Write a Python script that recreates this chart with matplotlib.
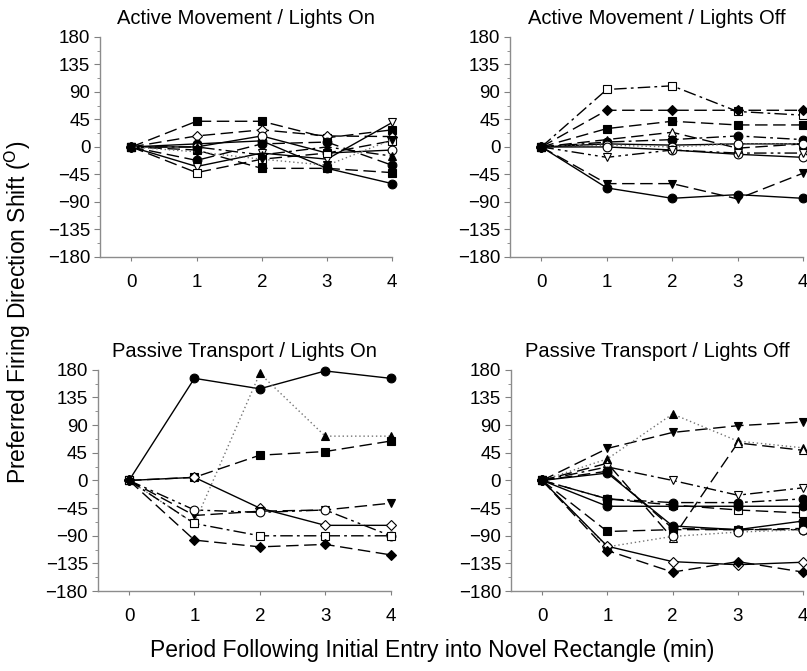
import numpy as np
import matplotlib
matplotlib.use("Agg")
import matplotlib.pyplot as plt
from matplotlib.ticker import MultipleLocator

plt.rcParams['font.family'] = ['Liberation Sans', 'DejaVu Sans']

periods = [0, 1, 2, 3, 4]
yticks = [180, 135, 90, 45, 0, -45, -90, -135, -180]

# Active Movement / Lights On
am_on_vals = [
    [0, 42, 42, 15, 28],
    [0, 18, 28, 18, 17],
    [0, 5, 10, -35, -60],
    [0, 0, 18, -10, -5],
    [0, -22, 5, 8, -30],
    [0, -32, -10, -20, 40],
    [0, -42, -20, -10, 10],
    [0, -5, -35, -35, -42],
    [0, 0, -13, 0, -15],
    [0, -8, -20, -30, 12],
]
am_on_mk = ['s', 'D', 'o', 'o', 'o', 'v', 's', 's', '^', 'v']
am_on_fill = [1, 0, 1, 0, 1, 0, 0, 1, 1, 1]
am_on_ls = ['dash', 'dash', 'solid', 'solid', 'dash', 'solid', 'dash', 'dash', 'dashdot', 'dot']

# Active Movement / Lights Off
am_off_vals = [
    [0, 94, 100, 58, 52],
    [0, 60, 60, 60, 60],
    [0, 30, 42, 36, 36],
    [0, 12, 24, -2, 5],
    [0, 8, 12, 18, 12],
    [0, 5, 3, 5, 5],
    [0, 3, 0, 5, 5],
    [0, 0, -5, -12, -17],
    [0, -17, -5, -10, -10],
    [0, -60, -60, -85, -43],
    [0, -67, -84, -78, -84],
]
am_off_mk = ['s', 'D', 's', '^', 'o', '^', 'o', 'o', 'v', 'v', 'o']
am_off_fill = [0, 1, 1, 0, 1, 1, 0, 0, 0, 1, 1]
am_off_ls = ['dashdot', 'dash', 'dash', 'dash', 'dashdot', 'solid', 'dot', 'solid',
             'dashdotdot', 'dash', 'solid']

# Passive Transport / Lights On
pt_on_vals = [
    [0, 166, 149, 178, 166],
    [0, -70, 174, 72, 72],
    [0, 5, 41, 47, 64],
    [0, 5, -45, -73, -73],
    [0, -57, -50, -48, -37],
    [0, -48, -52, -48, -90],
    [0, -70, -90, -90, -90],
    [0, -97, -108, -104, -121],
]
pt_on_mk = ['o', '^', 's', 'D', 'v', 'o', 's', 'D']
pt_on_fill = [1, 1, 1, 0, 1, 0, 0, 1]
pt_on_ls = ['solid', 'dot', 'dash', 'solid', 'dash', 'dashdotdot', 'dashdot', 'dash']

# Passive Transport / Lights Off
pt_off_vals = [
    [0, 52, 78, 89, 95],
    [0, 35, 108, 64, 53],
    [0, 28, -94, 61, 49],
    [0, 22, 0, -24, -12],
    [0, 12, -74, -80, -66],
    [0, 15, -78, -80, -80],
    [0, -30, -40, -48, -53],
    [0, -30, -36, -36, -30],
    [0, -42, -42, -42, -42],
    [0, -83, -80, -80, -78],
    [0, -108, -91, -84, -80],
    [0, -107, -132, -137, -133],
    [0, -114, -149, -132, -149],
]
pt_off_mk = ['v', '^', '^', 'v', 'o', 'o', 's', 'o', 'o', 's', 'o', 'D', 'D']
pt_off_fill = [1, 1, 0, 0, 1, 1, 0, 1, 1, 1, 0, 0, 1]
pt_off_ls = ['dash', 'dot', 'dash', 'dashdot', 'solid', 'dash', 'dash', 'dashdot',
             'solid', 'dash', 'dot', 'solid', 'dash']

styles = {
    'solid': '-',
    'dash': (0, (9, 4)),
    'dashdot': (0, (9, 3, 2, 3)),
    'dashdotdot': (0, (9, 3, 2, 3, 2, 3)),
    'dot': (0, (1, 2)),
}

fig = plt.figure(figsize=(8.07, 6.71), dpi=100)
boxes = [
    [0.124, 0.617, 0.362, 0.328],
    [0.632, 0.617, 0.363, 0.328],
    [0.121, 0.119, 0.363, 0.330],
    [0.633, 0.119, 0.362, 0.330],
]
panels = [
    ("Active Movement / Lights On", am_on_vals, am_on_mk, am_on_fill, am_on_ls),
    ("Active Movement / Lights Off", am_off_vals, am_off_mk, am_off_fill, am_off_ls),
    ("Passive Transport / Lights On", pt_on_vals, pt_on_mk, pt_on_fill, pt_on_ls),
    ("Passive Transport / Lights Off", pt_off_vals, pt_off_mk, pt_off_fill, pt_off_ls),
]

for box, (title, vals, mks, fills, lss) in zip(boxes, panels):
    ax = fig.add_axes(box)
    for v, m, f, ls in zip(vals, mks, fills, lss):
        col = '0.45' if ls == 'dot' else 'black'
        ax.plot(periods, v, color=col, linestyle=styles[ls], linewidth=1.0,
                marker=m, markersize=6.3 if m != 'D' else 5.2,
                markerfacecolor='black' if f else 'white',
                markeredgecolor='black', markeredgewidth=0.8, clip_on=False)
    ax.set_xlim(-0.48, 4.0)
    ax.set_ylim(-180, 180)
    ax.set_xticks(periods)
    ax.set_yticks(yticks)
    ax.yaxis.set_minor_locator(MultipleLocator(22.5))
    ax.tick_params(axis='both', labelsize=13.5, color='0.5', direction='out')
    ax.tick_params(axis='y', which='major', length=4, pad=3)
    ax.tick_params(axis='y', which='minor', length=2.5, color='0.5')
    ax.tick_params(axis='x', length=3, pad=9)
    for s in ['top', 'right']:
        ax.spines[s].set_visible(False)
    for s in ['left', 'bottom']:
        ax.spines[s].set_color('0.55')
        ax.spines[s].set_linewidth(1.0)
    ax.set_title(title, fontsize=14.5, pad=9)

fig.text(0.535, 0.031, "Period Following Initial Entry into Novel Rectangle (min)",
         ha='center', va='center', fontsize=16.5)
fig.text(0.022, 0.535, "Preferred Firing Direction Shift ($^{\\mathrm{O}}$)",
         ha='center', va='center', rotation=90, fontsize=16.5)

fig.savefig("out.png", dpi=100)
